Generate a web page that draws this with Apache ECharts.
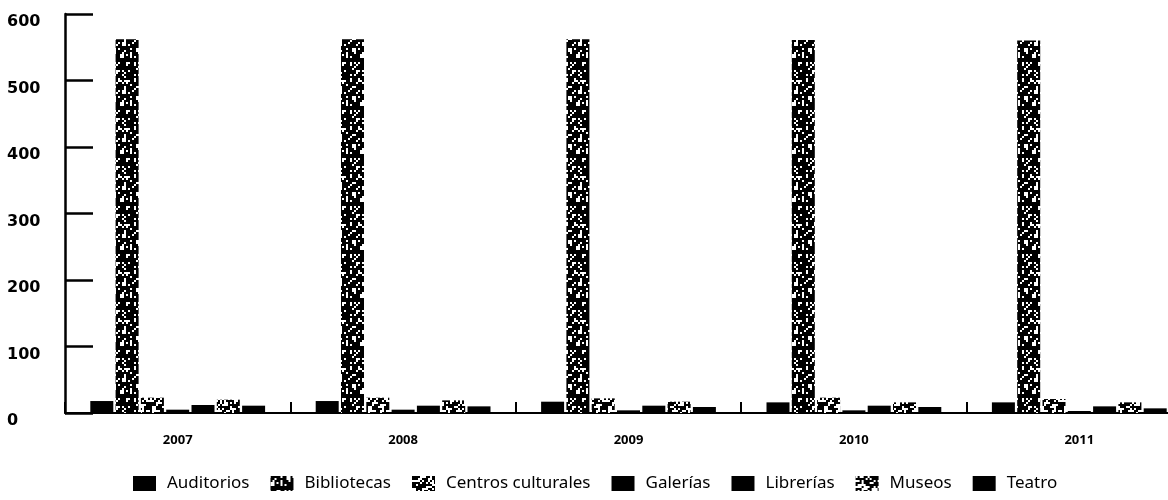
<!DOCTYPE html>
<html><head><meta charset="utf-8">
<script src="https://cdn.jsdelivr.net/npm/echarts@6/dist/echarts.min.js"></script>
<style>html,body{margin:0;padding:0;background:#fff}#c{width:1168px;height:500px}</style>
</head><body><div id="c"></div>
<script>
const categories = ['2007','2008','2009','2010','2011'];
const auditorios = [18, 18, 17, 16, 16];
const bibliotecas = [562, 562, 562, 561, 560];
const centros = [23, 23, 22, 23, 21];
const galerias = [5, 5, 4, 4, 3];
const librerias = [12, 11, 11, 11, 10];
const museos = [20, 19, 17, 16, 16];
const teatro = [11, 10, 9, 9, 7];
const yTicks = [0, 100, 200, 300, 400, 500, 600];

function makePattern(whitePct, seed) {
  const w = 24, h = 48, s = 2;
  const cv = document.createElement('canvas');
  cv.width = w; cv.height = h;
  const ctx = cv.getContext('2d');
  ctx.fillStyle = '#000'; ctx.fillRect(0, 0, w, h);
  ctx.fillStyle = '#fff';
  let st = seed * 7919 + 13;
  for (let i = 0; i < w / s; i++) {
    for (let j = 0; j < h / s; j++) {
      st = (st * 1103515245 + 12345) % 2147483648;
      const v = Math.floor(st / 65536) % 100;
      if (v < whitePct) ctx.fillRect(i * s, j * s, s, s);
    }
  }
  return { image: cv, repeat: 'repeat' };
}

const black = '#000';
const pBib = makePattern(20, 3);
const pCen = makePattern(32, 7);
const pMus = makePattern(32, 11);

const chart = echarts.init(document.getElementById('c'), null, { renderer: 'canvas' });
function bar(name, data, color) {
  return { name, type: 'bar', data, barWidth: 23, barGap: '10%', itemStyle: { color }, animation: false };
}
chart.setOption({
  animation: false,
  backgroundColor: '#fff',
  grid: { left: 65, top: 14, width: 1127, bottom: 87, containLabel: false, outerBoundsMode: 'none' },
  legend: {
    left: 128, top: 470, itemWidth: 23, itemHeight: 15, itemGap: 21, icon: 'rect',
    textStyle: { fontFamily: 'Noto Sans', fontSize: 17, color: '#000', padding: [0, 0, 0, 6] },
    data: ['Auditorios','Bibliotecas','Centros culturales','Galerías','Librerías','Museos','Teatro']
  },
  xAxis: {
    type: 'category', data: categories,
    axisLine: { show: true, lineStyle: { color: '#000', width: 2 } },
    axisTick: { show: true, interval: 0, inside: true, length: 11, lineStyle: { color: '#000', width: 2 } },
    axisLabel: { color: '#000', fontFamily: 'Noto Sans', fontSize: 13, fontWeight: 'bold', margin: 21 }
  },
  yAxis: {
    type: 'value', min: 0, max: 600, interval: 100,
    axisLine: { show: true, lineStyle: { color: '#000', width: 2.5 } },
    axisTick: { show: true, inside: true, length: 28, lineStyle: { color: '#000', width: 2.5 } },
    splitLine: { show: false },
    axisLabel: { color: '#000', fontFamily: 'DejaVu Sans', fontSize: 16, fontWeight: 'bold', align: 'left', verticalAlign: 'top', margin: 58,
      formatter: v => yTicks.includes(v) ? String(v) : '' }
  },
  series: [
    bar('Auditorios', auditorios, black),
    bar('Bibliotecas', bibliotecas, pBib),
    bar('Centros culturales', centros, pCen),
    bar('Galerías', galerias, black),
    bar('Librerías', librerias, black),
    bar('Museos', museos, pMus),
    bar('Teatro', teatro, black)
  ]
});
</script></body></html>
